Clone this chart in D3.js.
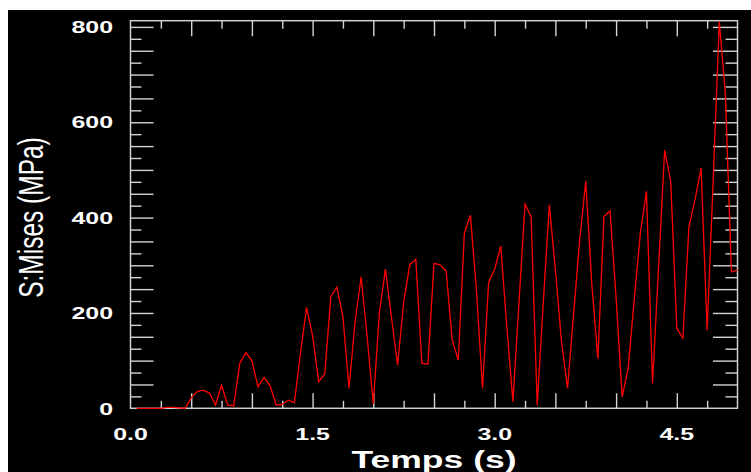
<!DOCTYPE html>
<html>
<head>
<meta charset="utf-8">
<script src="https://cdn.jsdelivr.net/npm/d3@7"></script>
<style>
html,body{margin:0;padding:0;background:#fff;}
svg{display:block;}
</style>
</head>
<body>
<svg id="chart" width="751" height="472"></svg>
<script>
// ---- data ----
const times = [0.05,0.10,0.15,0.20,0.25,0.30,0.35,0.40,0.45,0.50,
  0.55,0.60,0.65,0.70,0.75,0.80,0.85,0.90,0.95,1.00,
  1.05,1.10,1.15,1.20,1.25,1.30,1.35,1.40,1.45,1.50,
  1.55,1.60,1.65,1.70,1.75,1.80,1.85,1.90,1.95,2.00,
  2.05,2.10,2.15,2.20,2.25,2.30,2.35,2.40,2.45,2.50,
  2.55,2.60,2.65,2.70,2.75,2.80,2.85,2.90,2.95,3.00,
  3.05,3.10,3.15,3.20,3.25,3.30,3.35,3.40,3.45,3.50,
  3.55,3.60,3.65,3.70,3.75,3.80,3.85,3.90,3.95,4.00,
  4.05,4.10,4.15,4.20,4.25,4.30,4.35,4.40,4.45,4.50,
  4.55,4.60,4.65,4.70,4.75,4.80,4.85,4.90,4.95,5.00];
const mises = [0,0,0,0,0,2,2,1,0,22,
  35,38,32,7,49,7,5,94,117,100,
  45,65,47,7,8,17,12,115,211,152,
  56,72,234,254,192,42,182,276,148,9,
  200,292,190,91,222,301,313,94,93,304,
  301,288,143,101,367,405,245,42,264,292,
  340,170,14,222,428,402,7,221,427,290,
  140,42,198,352,476,260,104,402,414,232,
  24,86,230,368,455,52,297,541,476,168,
  147,381,437,504,164,480,811,660,286,290];
const xTickLabels = [0.0, 1.5, 3.0, 4.5];
const yTickLabels = [0, 200, 400, 600, 800];
const xMajorTicks = [0.5,1.0,1.5,2.0,2.5,3.0,3.5,4.0,4.5];
const xMinorTicks = [0.25,0.75,1.25,1.75,2.25,2.75,3.25,3.75,4.25,4.75];
const yMajorTicks = [50,100,150,200,250,300,350,400,450,500,550,600,650,700,750,800];
const yMinorTicks = [25,75,125,175,225,275,325,375,425,475,525,575,625,675,725,775];
const xTitle = "Temps (s)";
const yTitle = "S:Mises (MPa)";

// ---- layout ----
const L = 130.5, R = 737.5, T = 20.7, B = 408.3;
const SX = 1.45; // horizontal stretch of text
const svg = d3.select("#chart");
svg.append("rect").attr("x",8).attr("y",10).attr("width",743).attr("height",462).attr("fill","#000");

const x = d3.scaleLinear().domain([0,5]).range([L,R]);
const y = d3.scaleLinear().domain([0,813]).range([B,T]);

const tickColor = "#d4d4d4";
function styleAxis(g){
  g.select(".domain").remove();
  g.selectAll("line").attr("stroke",tickColor).attr("stroke-width",1.4);
  g.selectAll("text").remove();
}
// bottom
svg.append("g").attr("transform",`translate(0,${B})`)
  .call(d3.axisBottom(x).tickValues(xMinorTicks).tickSize(-7.5).tickFormat("")).call(styleAxis);
svg.append("g").attr("transform",`translate(0,${B})`)
  .call(d3.axisBottom(x).tickValues(xMajorTicks).tickSize(-15).tickFormat("")).call(styleAxis);
// top
svg.append("g").attr("transform",`translate(0,${T})`)
  .call(d3.axisTop(x).tickValues(xMinorTicks).tickSize(-8).tickFormat("")).call(styleAxis);
svg.append("g").attr("transform",`translate(0,${T})`)
  .call(d3.axisTop(x).tickValues(xMajorTicks).tickSize(-15.5).tickFormat("")).call(styleAxis);
// left
svg.append("g").attr("transform",`translate(${L},0)`)
  .call(d3.axisLeft(y).tickValues(yMinorTicks).tickSize(-11).tickFormat("")).call(styleAxis);
svg.append("g").attr("transform",`translate(${L},0)`)
  .call(d3.axisLeft(y).tickValues(yMajorTicks).tickSize(-23).tickFormat("")).call(styleAxis);
// right
svg.append("g").attr("transform",`translate(${R},0)`)
  .call(d3.axisRight(y).tickValues(yMinorTicks).tickSize(-12).tickFormat("")).call(styleAxis);
svg.append("g").attr("transform",`translate(${R},0)`)
  .call(d3.axisRight(y).tickValues(yMajorTicks).tickSize(-24.5).tickFormat("")).call(styleAxis);

// frame
svg.append("rect").attr("x",L).attr("y",T).attr("width",R-L).attr("height",B-T)
  .attr("fill","none").attr("stroke","#cfcfcf").attr("stroke-width",1.5);

// tick labels
const fontFam = "'Liberation Sans', Arial, Helvetica, sans-serif";
svg.append("g").selectAll("text").data(xTickLabels).join("text")
  .attr("transform", d => `translate(${x(d)},439.5) scale(${SX},1)`)
  .attr("text-anchor","middle").attr("fill","#fff")
  .attr("font-family",fontFam).attr("font-weight","bold").attr("font-size",17.2)
  .text(d => d.toFixed(1));
svg.append("g").selectAll("text").data(yTickLabels).join("text")
  .attr("transform", d => `translate(113,${y(d)+6.2}) scale(${SX},1)`)
  .attr("text-anchor","end").attr("fill","#fff")
  .attr("font-family",fontFam).attr("font-weight","bold").attr("font-size",17.2)
  .text(d => d);

// axis titles
svg.append("text")
  .attr("transform",`translate(${(L+R)/2},468) scale(${SX},1)`)
  .attr("text-anchor","middle").attr("fill","#fff")
  .attr("font-family",fontFam).attr("font-weight","bold").attr("font-size",24.5)
  .text(xTitle);
svg.append("text")
  .attr("transform",`translate(43,217.5) rotate(-90) scale(1,${SX})`)
  .attr("text-anchor","middle").attr("fill","#fff")
  .attr("font-family",fontFam).attr("font-size",24.5)
  .text(yTitle);

// data line
const pts = times.map((t,i) => [t, mises[i]]);
svg.append("path").datum(pts)
  .attr("d", d3.line().x(d => x(d[0])).y(d => y(d[1])))
  .attr("fill","none").attr("stroke","#ff0000").attr("stroke-width",1.3)
  .attr("stroke-linejoin","miter");
</script>
</body>
</html>
